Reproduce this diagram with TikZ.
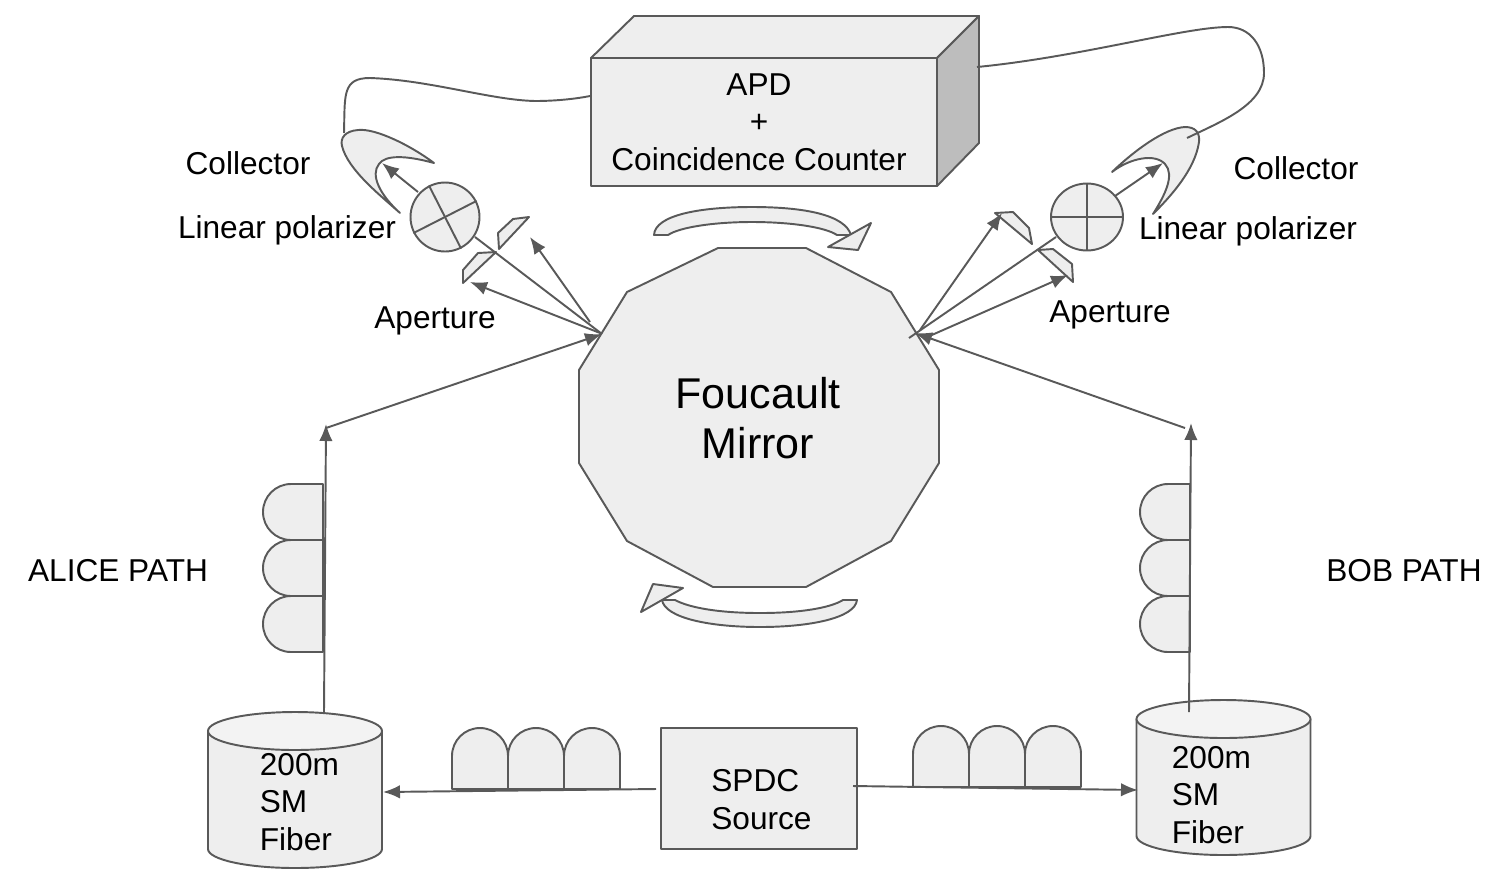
\documentclass[tikz,border=0pt]{standalone}
\usepackage{fontspec}
\setmainfont{Liberation Sans}
\usetikzlibrary{arrows.meta,shapes.geometric}
\definecolor{lineGray}{HTML}{595959}
\definecolor{fillGray}{HTML}{EEEEEE}
\definecolor{lidGray}{HTML}{F3F3F3}
\definecolor{sideGray}{HTML}{BDBDBD}
\tikzstyle{pixelGrid} = [x = .02cm, y = -.02cm]
\tikzstyle{partStyle} = [draw=lineGray, fill=fillGray, line width=1.1pt, line join=round]
\tikzstyle{lidStyle} = [draw=lineGray, fill=lidGray, line width=1.1pt, line join=round]
\tikzstyle{sideStyle} = [draw=lineGray, fill=sideGray, line width=1.1pt, line join=round]
\tikzstyle{wire} = [draw=lineGray, line width=1.1pt]
\tikzstyle{beam} = [draw=lineGray, line width=1.1pt, -{Latex[length=.34cm, width=.27cm]}]
\tikzstyle{plainText} = [font=\fontsize{18}{21.5}\selectfont, text=black, inner sep=0pt]
\tikzstyle{blockText} = [plainText, align=left]
\tikzstyle{bigText} = [font=\fontsize{24.5}{28.5}\selectfont, text=black, align=center, inner sep=0pt]
\newcommand{\verticalPaddle}[3]{\filldraw [partStyle] (#1, #2) -- (#1 - #3 + 28, #2) .. controls (#1 - #3 + 12.5, #2) and (#1 - #3, #2 + 12.5) .. (#1 - #3, #2 + 28) .. controls (#1 - #3, #2 + 43.5) and (#1 - #3 + 12.5, #2 + 56) .. (#1 - #3 + 28, #2 + 56) -- (#1, #2 + 56) -- cycle;}
\newcommand{\horizontalPaddle}[2]{\filldraw [partStyle] (#1, #2) -- (#1, #2 - 33) .. controls (#1, #2 - 48.5) and (#1 + 12.5, #2 - 61) .. (#1 + 28, #2 - 61) .. controls (#1 + 43.5, #2 - 61) and (#1 + 56, #2 - 48.5) .. (#1 + 56, #2 - 33) -- (#1 + 56, #2) -- cycle;}
\newcommand{\fiberSpool}[3]{
  \filldraw [partStyle] (#1 - 87, #2) -- (#1 - 87, #3) .. controls (#1 - 87, #3 + 10.5) and (#1 - 48, #3 + 19) .. (#1, #3 + 19) .. controls (#1 + 48, #3 + 19) and (#1 + 87, #3 + 10.5) .. (#1 + 87, #3) -- (#1 + 87, #2) -- cycle;
  \filldraw [lidStyle] (#1, #2) ellipse [x radius=87, y radius=19];
}
\begin{document}
\begin{tikzpicture}[pixelGrid]
  \useasboundingbox (0,0) rectangle (1511,894);
  % counter box
  \filldraw [partStyle] (591,58) -- (634,16) -- (979,16) -- (937,58) -- cycle;
  \filldraw [sideStyle] (937,58) -- (979,16) -- (979,143) -- (937,186) -- cycle;
  \node (apd) [partStyle, minimum width=6.92cm, minimum height=2.56cm, inner sep=0pt] at (764,122) {};
  \node (apdText) [plainText, align=center, font=\fontsize{18}{21.25}\selectfont] at (759,122) {APD\\+\\Coincidence Counter};
  % mirror
  \filldraw [partStyle] (627,292) -- (718,248) -- (806,248) -- (891,292) -- (939,370) -- (939,463) -- (891,541) -- (806,587) -- (713,587) -- (627,541) -- (579,463) -- (579,370) -- cycle;
  \node (mirror) [bigText] at (758,418) {Foucault\\Mirror};
  % rotation marks
  \filldraw [partStyle] (654,235) .. controls (655,215) and (700,207) .. (752,207) .. controls (805,207) and (845,215) .. (851,235) -- (837,235) .. controls (825,227) and (790,222) .. (752,222) .. controls (715,222) and (680,227) .. (668,235) -- cycle;
  \filldraw [partStyle] (871,223) -- (828,247) -- (858,250) -- cycle;
  \filldraw [partStyle] (662,600) .. controls (665,618) and (710,627) .. (760,627) .. controls (810,627) and (855,618) .. (857,600) -- (843,600) .. controls (830,608) and (800,613) .. (760,613) .. controls (720,613) and (690,608) .. (675,600) -- cycle;
  \filldraw [partStyle] (653,584) -- (683,588) -- (641,612) -- cycle;
  % source and spools
  \node (spdc) [partStyle, minimum width=3.92cm, minimum height=2.42cm] at (759,788.5) {};
  \node (spdcText) [blockText, anchor=west, font=\fontsize{18}{21.6}\selectfont] at (711,799.5) {SPDC\\Source};
  \fiberSpool{295}{731}{849}
  \fiberSpool{1223.5}{719}{836}
  \node (aliceSpool) [blockText, anchor=west, font=\fontsize{18}{21.2}\selectfont] at (259.5,802) {200m\\SM\\Fiber};
  \node (bobSpool) [blockText, anchor=west, font=\fontsize{18}{21.2}\selectfont] at (1171.5,795) {200m\\SM\\Fiber};
  % paddles
  \foreach \paddleY in {484,540,596} {
    \verticalPaddle{323}{\paddleY}{60}
    \verticalPaddle{1190}{\paddleY}{50}
  }
  \foreach \paddleX in {452,508,564} {
    \horizontalPaddle{\paddleX}{789}
  }
  \foreach \paddleX in {913,969,1025} {
    \horizontalPaddle{\paddleX}{787}
  }
  % collectors
  \filldraw [partStyle] (434,163) .. controls (410,145) and (375,128) .. (358,130) .. controls (345,131) and (340,138) .. (342,146) .. controls (348,170) and (380,195) .. (400,213) .. controls (380,195) and (370,175) .. (379,164) .. controls (385,155) and (405,155) .. (434,163) -- cycle;
  \filldraw [partStyle] (1112,172) .. controls (1135,150) and (1165,128) .. (1185,127) .. controls (1195,127) and (1200,132) .. (1199,142) .. controls (1195,170) and (1170,197) .. (1153,214) .. controls (1165,195) and (1175,175) .. (1165,164) .. controls (1155,153) and (1130,158) .. (1112,172) -- cycle;
  % polarizers
  \node (polLeft) [partStyle, circle, minimum size=1.38cm, inner sep=0pt] at (445,217) {};
  \node (polRight) [partStyle, ellipse, minimum width=1.44cm, minimum height=1.34cm, inner sep=0pt] at (1087,217) {};
  \draw [wire] (polLeft.117) -- (polLeft.297);
  \draw [wire] (polLeft.27) -- (polLeft.207);
  \draw [wire] (polRight.north) -- (polRight.south);
  \draw [wire] (polRight.west) -- (polRight.east);
  % apertures
  \filldraw [partStyle] (498,233) -- (513,219) -- (529,217) -- (499,249) -- cycle;
  \filldraw [partStyle] (463,270) -- (478,253) -- (496,252) -- (463,283) -- cycle;
  \filldraw [partStyle] (995,213) -- (1013,212) -- (1029,228) -- (1032,244) -- cycle;
  \filldraw [partStyle] (1038,250) -- (1053,249) -- (1072,264) -- (1073,282) -- cycle;
  % beam ends
  \coordinate (aliceFiberStart) at (324,712);
  \coordinate (aliceFiberEnd) at (326,424);
  \coordinate (aliceTurn) at (326,428);
  \coordinate (mirrorInLeft) at (602,334);
  \coordinate (bobFiberStart) at (1189,712);
  \coordinate (bobFiberEnd) at (1191,423);
  \coordinate (bobTurn) at (1185,428);
  \coordinate (mirrorInRight) at (915,333);
  \coordinate (spdcLeft) at (656,789);
  \coordinate (spoolLeft) at (383,792);
  \coordinate (spdcRight) at (853,786);
  \coordinate (spoolRight) at (1138,790);
  \coordinate (leftOutLow) at (600,333);
  \coordinate (leftApLow) at (470,282);
  \coordinate (leftOutHigh) at (590,322);
  \coordinate (leftApHigh) at (530,237);
  \coordinate (leftBeamEnd) at (602,334);
  \coordinate (rightBeamEnd) at (909,338);
  \coordinate (rightOutHigh) at (920,330);
  \coordinate (rightApHigh) at (1002,213);
  \coordinate (rightOutLow) at (925,338);
  \coordinate (rightApLow) at (1068,275);
  \coordinate (leftPolOut) at (418,192);
  \coordinate (leftCollector) at (382,163);
  \coordinate (rightPolOut) at (1115,196);
  \coordinate (rightCollector) at (1163,163);
  \coordinate (leftPolIn) at (475,237);
  \coordinate (rightPolIn) at (1056,237);
  % beams
  \draw [beam] (aliceFiberStart) -- (aliceFiberEnd);
  \draw [beam] (aliceTurn) -- (mirrorInLeft);
  \draw [beam] (bobFiberStart) -- (bobFiberEnd);
  \draw [beam] (bobTurn) -- (mirrorInRight);
  \draw [beam] (spdcLeft) -- (spoolLeft);
  \draw [beam] (spdcRight) -- (spoolRight);
  \draw [beam] (leftOutLow) -- (leftApLow);
  \draw [beam] (leftOutHigh) -- (leftApHigh);
  \draw [wire] (leftBeamEnd) -- (leftPolIn);
  \draw [beam] (rightOutHigh) -- (rightApHigh);
  \draw [beam] (rightOutLow) -- (rightApLow);
  \draw [wire] (rightBeamEnd) -- (rightPolIn);
  \draw [beam] (leftPolOut) -- (leftCollector);
  \draw [beam] (rightPolOut) -- (rightCollector);
  % cables
  \coordinate (leftCableStart) at (344,133);
  \coordinate (leftCableEnd) at (590,96);
  \coordinate (rightCableStart) at (1187,138);
  \coordinate (rightCableEnd) at (977,67);
  \draw [wire] (leftCableStart) .. controls (345,95) and (342,78) .. (370,78) .. controls (430,80) and (490,100) .. (535,101) .. controls (555,101) and (575,99) .. (leftCableEnd);
  \draw [wire] (rightCableStart) .. controls (1220,122) and (1264,105) .. (1264,73) .. controls (1264,45) and (1250,27) .. (1228,27) .. controls (1185,27) and (1080,57) .. (rightCableEnd);
  % labels
  \node (collectorLeft) [plainText] at (248,163) {Collector};
  \node (linearLeft) [plainText] at (287,230) {Linear polarizer};
  \node (apertureLeft) [plainText] at (435,321) {Aperture};
  \node (collectorRight) [plainText] at (1296,168) {Collector};
  \node (linearRight) [plainText] at (1248,231) {Linear polarizer};
  \node (apertureRight) [plainText] at (1110,315) {Aperture};
  \node (alicePath) [plainText] at (118,571) {ALICE PATH};
  \node (bobPath) [plainText] at (1404,571) {BOB PATH};
\end{tikzpicture}
\end{document}
